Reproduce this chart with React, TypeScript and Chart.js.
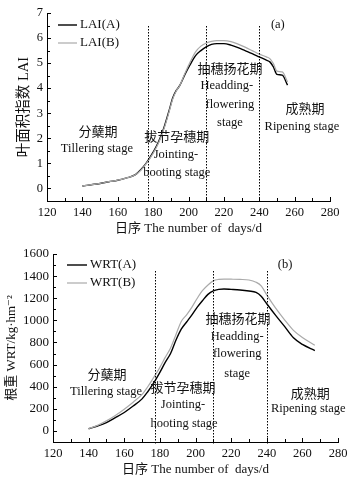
import React, { useEffect, useRef } from "react";
import { Chart, registerables } from "chart.js";
Chart.register(...registerables);

// ---- Data: panel (a) LAI ----
const laiDays = [140, 145, 150, 155, 160, 165, 170, 173, 176, 180, 183, 186, 189, 191, 193, 195, 198, 201, 204, 207, 210, 213, 216, 220, 224, 228, 232, 236, 240, 244, 246, 248, 250, 253, 256];
const laiA = [0.1, 0.15, 0.2, 0.27, 0.33, 0.42, 0.55, 0.75, 1.0, 1.45, 1.85, 2.4, 3.1, 3.6, 3.9, 4.1, 4.55, 4.95, 5.3, 5.5, 5.65, 5.75, 5.78, 5.78, 5.72, 5.62, 5.5, 5.38, 5.25, 5.12, 5.05, 4.85, 4.55, 4.52, 4.12];
const laiB = [0.1, 0.15, 0.2, 0.27, 0.33, 0.42, 0.55, 0.72, 0.98, 1.4, 1.8, 2.35, 3.05, 3.55, 3.88, 4.1, 4.6, 5.05, 5.45, 5.68, 5.8, 5.87, 5.9, 5.9, 5.86, 5.76, 5.64, 5.5, 5.36, 5.25, 5.18, 4.98, 4.68, 4.65, 4.25];

// ---- Data: panel (b) WRT ----
const wrtDays = [140, 145, 150, 155, 160, 165, 170, 173, 176, 180, 183, 186, 189, 192, 195, 198, 201, 204, 207, 210, 213, 216, 220, 225, 230, 234, 237, 240, 245, 250, 255, 260, 267];
const wrtA = [20, 45, 76, 120, 167, 225, 290, 350, 420, 530, 620, 700, 820, 920, 985, 1050, 1120, 1180, 1235, 1267, 1280, 1283, 1280, 1275, 1265, 1252, 1215, 1150, 1045, 945, 842, 782, 727];
const wrtB = [20, 50, 91, 140, 197, 260, 330, 395, 470, 575, 665, 750, 870, 990, 1050, 1120, 1200, 1270, 1320, 1357, 1370, 1373, 1372, 1370, 1365, 1345, 1310, 1230, 1110, 1005, 910, 845, 775];

// ---- Stage boundaries (days) ----
const stageLines = [177, 210, 240];

// ---- Annotations ----
const annoTextA = ["分蘖期", "Tillering stage", "拔节孕穗期", "Jointing-", "booting stage", "抽穗扬花期", "Headding-", "flowering", "stage", "成熟期", "Ripening stage", "(a)"];
const annoXA = [148.8, 148.2, 193.4, 192.9, 193.4, 223.4, 221.7, 223.4, 223.4, 265.8, 264.1, 250.5];
const annoYA = [2.31, 1.59, 2.11, 1.35, 0.64, 4.82, 4.1, 3.35, 2.63, 3.19, 2.47, 6.53];

const annoTextB = ["分蘖期", "Tillering stage", "拔节孕穗期", "Jointing-", "hooting stage", "抽穗扬花期", "Headding-", "flowering", "stage", "成熟期", "Ripening stage", "(b)"];
const annoXB = [150.3, 149.8, 193.0, 193.0, 193.6, 223.9, 223.4, 223.4, 223.4, 264.4, 263.3, 250.3];
const annoYB = [518, 355, 400, 236, 64, 1018, 855, 700, 518, 345, 200, 1500];

const SERIF = "'Liberation Serif', 'DejaVu Serif', 'Noto Sans CJK SC', serif";
const GRAY = "#aaaaaa";

type PanelCfg = {
  days: number[];
  a: number[];
  b: number[];
  labelA: string;
  labelB: string;
  yMin: number;
  yMax: number;
  yStep: number;
  yMinor: number;
  lineTop: number;
  yTitle: string;
  yTitlePad: number;
  yTitleSize: number;
  yFontSize: number;
  yWidth: number;
  xHeight: number;
  xTitlePad: number;
  padTop: number;
  padRight: number;
  legendDx: number;
  legendDy: number;
  legendLen: number;
  annoText: string[];
  annoX: number[];
  annoY: number[];
  height: number;
};

const panelA: PanelCfg = {
  days: laiDays, a: laiA, b: laiB, labelA: "LAI(A)", labelB: "LAI(B)",
  yMin: -0.5, yMax: 7, yStep: 1, yMinor: 0.5, lineTop: 6.5,
  yTitle: "叶面积指数 LAI", yTitlePad: 15, yTitleSize: 14.5, yFontSize: 12.5, yWidth: 47, xHeight: 39, xTitlePad: 4,
  padTop: 13, padRight: 24, legendDx: 11, legendDy: 12, legendLen: 19,
  annoText: annoTextA, annoX: annoXA, annoY: annoYA, height: 240,
};

const panelB: PanelCfg = {
  days: wrtDays, a: wrtA, b: wrtB, labelA: "WRT(A)", labelB: "WRT(B)",
  yMin: -100, yMax: 1600, yStep: 200, yMinor: 100, lineTop: 1450,
  yTitle: "根重 WRT/kg·hm⁻²", yTitlePad: 4, yTitleSize: 13, yFontSize: 13, yWidth: 53, xHeight: 37, xTitlePad: 2,
  padTop: 14, padRight: 16, legendDx: 14, legendDy: 11, legendLen: 20,
  annoText: annoTextB, annoX: annoXB, annoY: annoYB, height: 239,
};

function makeChart(canvas: HTMLCanvasElement, p: PanelCfg) {
  const decor = {
    id: "decor",
    afterDatasetsDraw(chart: any) {
      const { ctx, chartArea } = chart;
      const xs = chart.scales.x;
      const ys = chart.scales.y;
      ctx.save();
      // inward ticks
      ctx.strokeStyle = "#000";
      ctx.lineWidth = 1;
      ctx.beginPath();
      for (let v = 120; v <= 280; v += 10) {
        const px = Math.round(xs.getPixelForValue(v)) + 0.5;
        const len = v % 20 === 0 ? 4 : 3;
        ctx.moveTo(px, chartArea.bottom);
        ctx.lineTo(px, chartArea.bottom - len);
      }
      const nY = Math.round((p.yMax - p.yMin) / p.yMinor);
      for (let i = 0; i <= nY; i++) {
        const v = p.yMin + i * p.yMinor;
        const py = Math.round(ys.getPixelForValue(v)) + 0.5;
        const isMajor = Math.abs(v / p.yStep - Math.round(v / p.yStep)) < 1e-6;
        const len = isMajor ? 4 : 3;
        ctx.moveTo(chartArea.left, py);
        ctx.lineTo(chartArea.left + len, py);
      }
      ctx.stroke();

      // stage boundaries (dotted)
      ctx.fillStyle = "#000";
      stageLines.forEach((d) => {
        const px = Math.round(xs.getPixelForValue(d));
        const y0 = ys.getPixelForValue(p.lineTop);
        const y1 = chartArea.bottom;
        for (let y = y0; y < y1; y += 3) {
          ctx.fillRect(px, Math.round(y), 1, 1.5);
        }
      });

      // annotations
      ctx.fillStyle = "#111";
      ctx.textAlign = "center";
      ctx.textBaseline = "middle";
      p.annoText.forEach((t, i) => {
        const isCJK = /[\u4e00-\u9fff]/.test(t);
        ctx.font = isCJK ? `13px 'Noto Sans CJK SC', sans-serif` : `12.5px ${SERIF}`;
        ctx.fillText(t, xs.getPixelForValue(p.annoX[i]), ys.getPixelForValue(p.annoY[i]));
      });

      // legend
      const lx = chartArea.left + p.legendDx;
      const ly = chartArea.top + p.legendDy;
      const items: [string, string, number][] = [
        [p.labelA, "#000", 1.4],
        [p.labelB, GRAY, 1.2],
      ];
      ctx.textAlign = "left";
      ctx.font = `13px ${SERIF}`;
      items.forEach(([lab, col, w], i) => {
        const y = ly + i * 18;
        ctx.strokeStyle = col;
        ctx.lineWidth = w;
        ctx.beginPath();
        ctx.moveTo(lx, y);
        ctx.lineTo(lx + p.legendLen, y);
        ctx.stroke();
        ctx.fillStyle = "#111";
        ctx.fillText(lab, lx + p.legendLen + 3, y);
      });
      ctx.restore();
    },
  };

  return new Chart(canvas, {
    type: "line",
    data: {
      datasets: [
        {
          data: p.days.map((d, i) => ({ x: d, y: p.b[i] })),
          borderColor: GRAY,
          borderWidth: 1.2,
          pointRadius: 0,
          cubicInterpolationMode: "monotone",
          fill: false,
        },
        {
          data: p.days.map((d, i) => ({ x: d, y: p.a[i] })),
          borderColor: "#000",
          borderWidth: 1.4,
          pointRadius: 0,
          cubicInterpolationMode: "monotone",
          fill: false,
        },
      ] as any,
    },
    options: {
      animation: false,
      responsive: false,
      maintainAspectRatio: false,
      events: [],
      layout: { padding: { top: p.padTop, right: p.padRight, left: 0, bottom: 0 } },
      plugins: { legend: { display: false }, tooltip: { enabled: false }, title: { display: false } },
      scales: {
        x: {
          type: "linear",
          min: 120,
          max: 280,
          afterFit: (s: any) => {
            s.height = p.xHeight;
          },
          grid: { display: false, drawTicks: false },
          border: { display: true, color: "#000", width: 1 },
          ticks: {
            stepSize: 20,
            padding: 4,
            color: "#111",
            autoSkip: false,
            maxRotation: 0,
            font: { family: SERIF, size: 12.5 },
          },
          title: {
            display: true,
            text: "日序 The number of  days/d",
            color: "#111",
            font: { family: SERIF, size: 13 },
            padding: { top: 0, bottom: p.xTitlePad },
          },
        },
        y: {
          type: "linear",
          min: p.yMin,
          max: p.yMax,
          afterFit: (s: any) => {
            s.width = p.yWidth;
          },
          grid: { display: false, drawTicks: false },
          border: { display: true, color: "#000", width: 1 },
          ticks: {
            stepSize: p.yMinor,
            padding: 4,
            color: "#111",
            autoSkip: false,
            font: { family: SERIF, size: p.yFontSize },
            callback: (v: any) => {
              const n = Number(v);
              if (n < 0) return "";
              return Math.abs(n / p.yStep - Math.round(n / p.yStep)) < 1e-6 ? String(Math.round(n)) : "";
            },
          },
          title: {
            display: true,
            text: p.yTitle,
            color: "#111",
            font: { family: SERIF, size: p.yTitleSize },
            padding: { top: p.yTitlePad, bottom: 0 },
          },
        },
      },
    },
    plugins: [decor],
  } as any);
}

function Panel({ cfg, top }: { cfg: PanelCfg; top: number }) {
  const ref = useRef<HTMLCanvasElement | null>(null);
  useEffect(() => {
    if (!ref.current) return;
    const c = makeChart(ref.current, cfg);
    return () => c.destroy();
  }, [cfg]);
  return (
    <div style={{ position: "absolute", left: 0, top, width: 354, height: cfg.height }}>
      <canvas ref={ref} width={354} height={cfg.height} style={{ display: "block" }} />
    </div>
  );
}

export default function App() {
  return (
    <div style={{ position: "absolute", left: 0, top: 0, width: 354, height: 479, background: "#fff" }}>
      <Panel cfg={panelA} top={0} />
      <Panel cfg={panelB} top={240} />
    </div>
  );
}
